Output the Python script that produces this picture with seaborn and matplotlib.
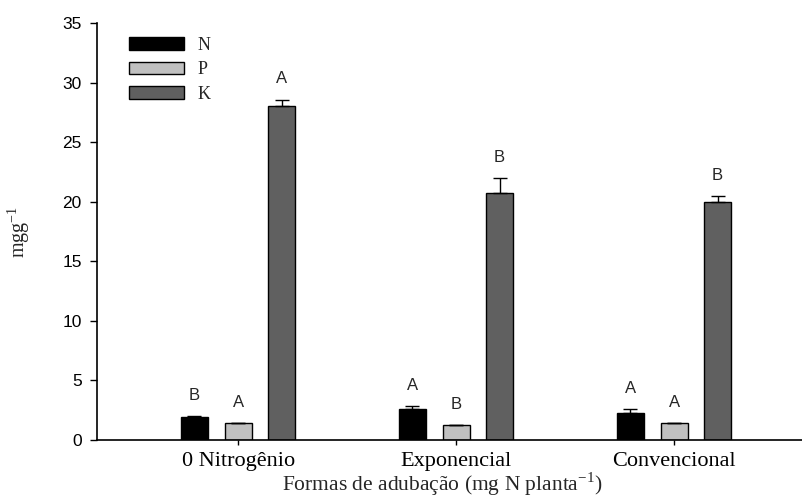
import numpy as np
import pandas as pd
import matplotlib
matplotlib.use("Agg")
import matplotlib.pyplot as plt
import seaborn as sns

# Nutrient content by fertilisation regime
regimes = ["0 Nitrogênio", "Exponencial", "Convencional"]
nutrients = ["N", "P", "K"]
values_N = [1.95, 2.58, 2.30]
values_P = [1.40, 1.23, 1.40]
values_K = [28.05, 20.78, 19.97]
err_N = [0.05, 0.28, 0.28]
err_P = [0.03, 0.02, 0.03]
err_K = [0.55, 1.20, 0.52]
letters_N = ["B", "A", "A"]
letters_P = ["A", "B", "A"]
letters_K = ["A", "B", "B"]

values = {"N": values_N, "P": values_P, "K": values_K}
errors = {"N": err_N, "P": err_P, "K": err_K}
letters = {"N": letters_N, "P": letters_P, "K": letters_K}
colors = {"N": "#000000", "P": "#c0c0c0", "K": "#606060"}

df = pd.DataFrame(
    [(r, n, values[n][i]) for n in nutrients for i, r in enumerate(regimes)],
    columns=["regime", "nutrient", "value"],
)

sns.set_style("ticks")
plt.rcParams["font.family"] = ["Liberation Sans", "DejaVu Sans"]
SERIF = ["Liberation Serif", "DejaVu Serif"]
SANS = ["Liberation Sans", "DejaVu Sans"]

fig = plt.figure(figsize=(8.02, 4.97), dpi=100)
ax = fig.add_axes([0.121, 0.1147, 0.879, 0.8384])

sns.barplot(
    data=df, x="regime", y="value", hue="nutrient",
    order=regimes, hue_order=nutrients, palette=colors,
    width=0.6, gap=0.38, errorbar=None,
    edgecolor="black", linewidth=1.0, saturation=1, ax=ax,
)

# one-sided error bars and significance letters above each bar
for cont, n in zip(ax.containers, nutrients):
    for i, bar in enumerate(cont):
        xc = bar.get_x() + bar.get_width() / 2
        top = bar.get_height()
        e = errors[n][i]
        ax.errorbar(xc, top, yerr=[[0], [e]], fmt="none", ecolor="black",
                    elinewidth=1.0, capsize=5, capthick=1.0, zorder=3)
        ax.text(xc, top + e + 1.75, letters[n][i], ha="center", va="center",
                fontsize=12, family=SANS)

ax.set_ylim(0, 35)
ax.set_xlim(-0.647, 2.587)
ax.set_yticks(np.arange(0, 36, 5))
ax.set_yticklabels([str(v) for v in range(0, 36, 5)], fontsize=12.5, family=SANS)
ax.set_xticks(range(len(regimes)))
ax.set_xticklabels(regimes, fontsize=16, family=SERIF)
ax.tick_params(axis="y", length=5, width=1, pad=6, colors="black")
ax.tick_params(axis="x", length=3.6, width=1, pad=5, colors="black")

sns.despine(ax=ax)
for s in ("left", "bottom"):
    ax.spines[s].set_linewidth(1.2)
    ax.spines[s].set_color("black")

ax.set_xlabel("Formas de adubação (mg N planta$^{\\mathregular{-1}}$)", fontsize=15.5,
              family=SERIF)
ax.set_ylabel("mgg$^{\\mathregular{-1}}$", fontsize=14.5, family=SERIF)
ax.xaxis.set_label_coords(0.49, -0.072)
ax.yaxis.set_label_coords(-0.092, 0.5)

leg = ax.legend(
    loc="upper left", bbox_to_anchor=(0.0454, 0.967), frameon=False,
    prop={"family": SERIF, "size": 13},
    handlelength=3.05, handleheight=0.72, handletextpad=0.75,
    labelspacing=0.4, borderpad=0, borderaxespad=0, title=None,
)

fig.savefig("out.png", dpi=100)
